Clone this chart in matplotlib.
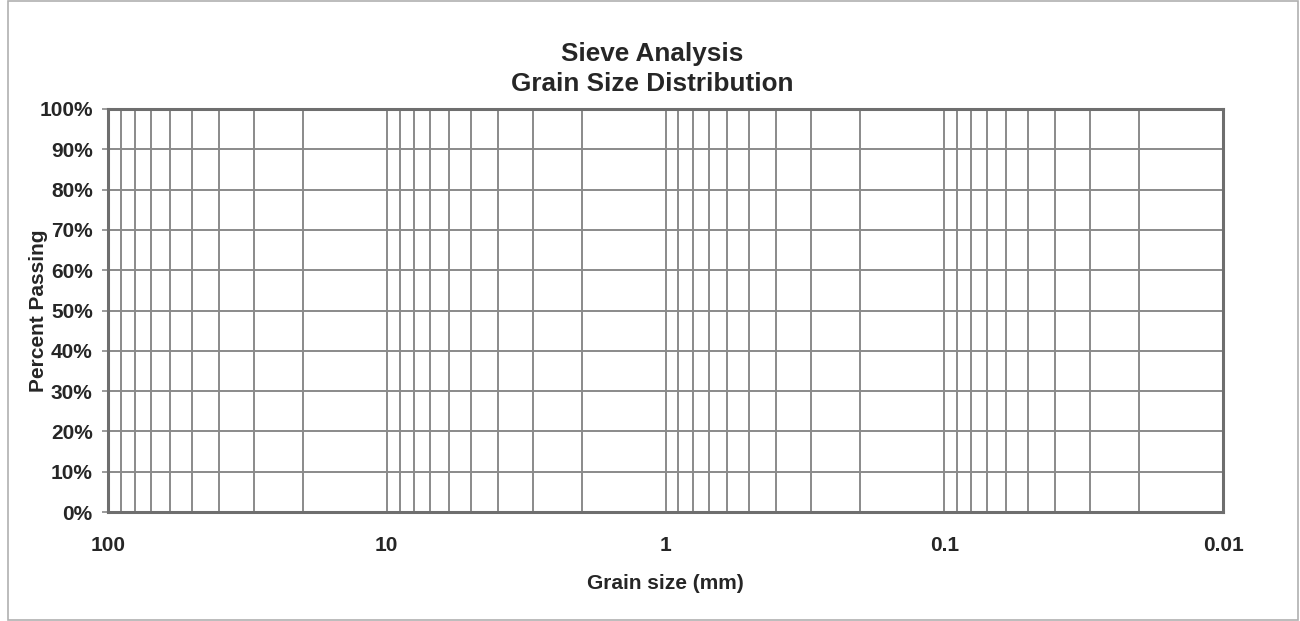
import matplotlib
matplotlib.use("Agg")
import matplotlib.pyplot as plt
from matplotlib.patches import Rectangle
from matplotlib.ticker import FixedLocator, LogLocator, NullFormatter

plt.rcParams['font.family'] = ['Liberation Sans', 'DejaVu Sans']

# axis values
x_ticks = [100, 10, 1, 0.1, 0.01]
x_labels = ['100', '10', '1', '0.1', '0.01']
y_ticks = [0, 0.1, 0.2, 0.3, 0.4, 0.5, 0.6, 0.7, 0.8, 0.9, 1.0]
y_labels = ['0%', '10%', '20%', '30%', '40%', '50%', '60%', '70%', '80%', '90%', '100%']

grid_col = '#8a8a8a'
axis_col = '#6e6e6e'
text_col = '#262626'


def main():
    fig = plt.figure(figsize=(13, 6.21), dpi=100)
    ax = fig.add_axes([108 / 1300, 1 - 512 / 621, (1223 - 108) / 1300, (512 - 109) / 621])

    ax.set_xscale('log')
    ax.set_xlim(x_ticks[0], x_ticks[-1])
    ax.set_ylim(y_ticks[0], y_ticks[-1])

    ax.xaxis.set_major_locator(FixedLocator(x_ticks))
    ax.set_xticks(x_ticks)
    ax.set_xticklabels(x_labels)
    ax.xaxis.set_minor_locator(LogLocator(base=10, subs=range(2, 10)))
    ax.xaxis.set_minor_formatter(NullFormatter())
    ax.set_yticks(y_ticks)
    ax.set_yticklabels(y_labels)

    ax.grid(True, which='both', axis='x', color=grid_col, lw=1.4)
    ax.grid(True, which='major', axis='y', color=grid_col, lw=1.4)

    for s in ax.spines.values():
        s.set_color(axis_col)
        s.set_linewidth(2.2)

    ax.tick_params(axis='y', which='major', length=4, width=1.2, color=grid_col,
                   labelsize=15, pad=7, labelcolor=text_col)
    ax.tick_params(axis='x', which='major', length=0, labelsize=15, pad=17,
                   labelcolor=text_col)
    ax.tick_params(axis='x', which='minor', length=0)
    for lab in ax.get_xticklabels() + ax.get_yticklabels():
        lab.set_fontweight('bold')

    ax.set_xlabel('Grain size (mm)', fontsize=15, fontweight='bold', color=text_col)
    ax.xaxis.set_label_coords(0.5, -0.153)
    ax.set_ylabel('Percent Passing', fontsize=15, fontweight='bold', color=text_col)
    ax.yaxis.set_label_coords(-0.0535, 0.5)

    fig.text(652 / 1300, 1 - 69 / 621, 'Sieve Analysis\nGrain Size Distribution',
             ha='center', va='center', fontsize=18.8, fontweight='bold',
             color=text_col, linespacing=1.3)

    # light frame around the chart area
    fig.patches.append(Rectangle((8 / 1300, 1 / 621), 1290 / 1300, 619 / 621,
                                 transform=fig.transFigure, fill=False,
                                 edgecolor='#b0b0b0', lw=1.2))

    fig.savefig('out.png', dpi=100)


if __name__ == "__main__":
    main()
